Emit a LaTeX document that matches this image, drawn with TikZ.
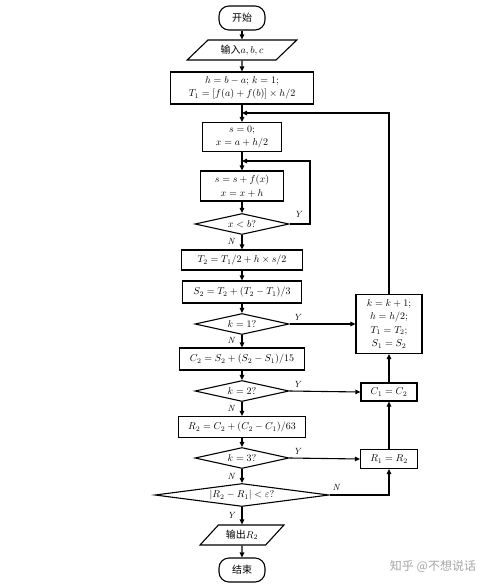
\documentclass[tikz,border=0pt]{standalone}
\usepackage{fontspec}
\newfontfamily\cjk{Noto Sans CJK SC}
\usetikzlibrary{shapes.geometric,arrows.meta}

\begin{document}
\begin{tikzpicture}[x=1pt,y=1pt,yscale=-1,
  every node/.style={font=\fontsize{10}{13.5}\selectfont},
  box/.style={draw,line width=1.1pt,align=center,inner sep=1pt},
  term/.style={draw,line width=1.1pt,rounded corners=10pt,minimum width=46,minimum height=24,inner sep=1pt},
  io/.style={draw,line width=1.1pt,trapezium,trapezium left angle=42,trapezium right angle=138,trapezium stretches=true,minimum height=20,inner sep=1pt},
  decide/.style={draw,line width=1.1pt,diamond,inner sep=0pt,aspect=4.4,minimum width=94,minimum height=21},
  arr/.style={line width=1.1pt,-{Triangle[length=5pt,width=4.5pt]}},
  lbl/.style={font=\fontsize{9}{10}\selectfont\itshape,inner sep=0.5pt}]
\useasboundingbox (0,0) rectangle (500,587);

% main column
\node [term] (start) at (242,18) {\cjk 开始};
\node [io,minimum width=110] (input) at (242,50) {{\cjk 输入}$a,b,c$};
\node [box,minimum width=143,minimum height=32] (init) at (242,88) {$h=b-a;\,k=1;$\\$T_1=[f(a)+f(b)]\times h/2$};
\node [box,minimum width=79,minimum height=29] (sinit) at (242,137) {$s=0;$\\$x=a+h/2$};
\node [box,minimum width=83,minimum height=30] (sum) at (242,186) {$s=s+f(x)$\\$x=x+h$};
\node [decide] (dx) at (242,224) {$x<b?$};
\node [box,minimum width=121,minimum height=20] (t2) at (242,260) {$T_2=T_1/2+h\times s/2$};
\node [box,minimum width=119,minimum height=22] (s2) at (242,292) {$S_2=T_2+(T_2-T_1)/3$};
\node [decide] (dk1) at (242,324) {$k=1?$};
\node [box,minimum width=125,minimum height=22] (c2) at (242,359) {$C_2=S_2+(S_2-S_1)/15$};
\node [decide] (dk2) at (242,391) {$k=2?$};
\node [box,minimum width=127,minimum height=21] (r2) at (242,427) {$R_2=C_2+(C_2-C_1)/63$};
\node [decide] (dk3) at (242,458) {$k=3?$};
\node [decide,aspect=7.6,minimum width=174,minimum height=23] (deps) at (242,495) {$|R_2-R_1|<\varepsilon?$};
\node [io,minimum width=84] (output) at (242,535) {{\cjk 输出}$R_2$};
\node [term] (stop) at (242,570) {\cjk 结束};

% right column
\node [box,minimum width=66,minimum height=59] (upd) at (389,324) {$k=k+1;$\\$h=h/2;$\\$T_1=T_2;$\\$S_1=S_2$};
\node [box,minimum width=56,minimum height=18] (c1) at (389,392) {$C_1=C_2$};
\node [box,minimum width=57,minimum height=19] (r1) at (389,459) {$R_1=R_2$};

\coordinate (j1) at (242,113);
\coordinate (j2) at (242,161);
\coordinate (yr) at (310,161);

% connectors
\draw [arr] (start) -- (input);
\draw [arr] (input) -- (init);
\draw [arr] (init) -- (sinit);
\draw [arr] (sinit) -- (sum);
\draw [arr] (sum) -- (dx);
\draw [arr] (dx) -- (t2);
\draw [arr] (t2) -- (s2);
\draw [arr] (s2) -- (dk1);
\draw [arr] (dk1) -- (c2);
\draw [arr] (c2) -- (dk2);
\draw [arr] (dk2) -- (r2);
\draw [arr] (r2) -- (dk3);
\draw [arr] (dk3) -- (deps);
\draw [arr] (deps) -- (output);
\draw [arr] (output) -- (stop);

\draw [arr] (dx.east) -| (yr) -- (j2);
\draw [arr] (dk1.east) -- (upd.west);
\draw [arr] (dk2.east) -- (c1.west);
\draw [arr] (dk3.east) -- (r1.west);
\draw [arr] (deps.east) -| (r1.south);
\draw [arr] (r1) -- (c1);
\draw [arr] (c1) -- (upd);
\draw [arr] (upd.north) |- (j1);

% labels
\node [lbl] at (298,214) {Y};
\node [lbl] at (231,241) {N};
\node [lbl] at (297,317) {Y};
\node [lbl] at (231,340) {N};
\node [lbl] at (297,384) {Y};
\node [lbl] at (231,408) {N};
\node [lbl] at (297,451) {Y};
\node [lbl] at (231,476) {N};
\node [lbl] at (336,487) {N};
\node [lbl] at (231,515) {Y};

% watermark
\node [text=black!35,font=\cjk\fontsize{12}{14}\selectfont] (mark) at (433,566) {知乎 @不想说话};
\end{tikzpicture}
\end{document}
